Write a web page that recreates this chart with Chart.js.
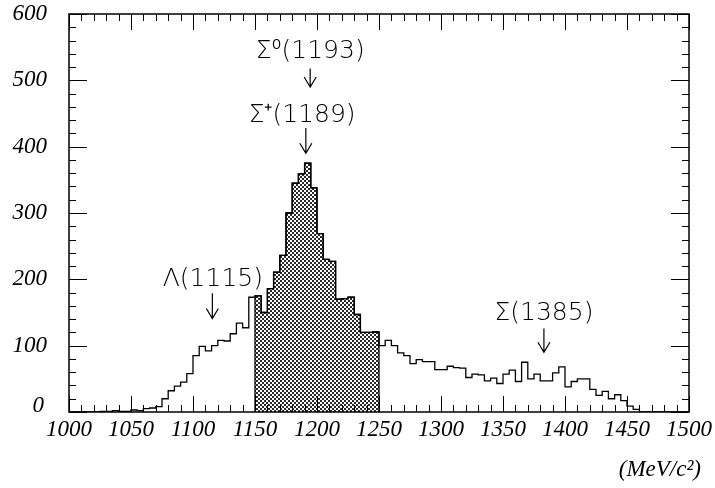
<!DOCTYPE html>
<html lang="en">
<head>
    <meta charset="UTF-8">
    <title>Hyperon mass spectrum</title>
    <script src="https://cdn.jsdelivr.net/npm/chart.js"></script>
    <style>
        body {
            margin: 0;
            padding: 0;
            background: #fff;
        }
        .wrap {
            width: 715px;
            height: 488px;
            position: relative;
        }
    </style>
</head>
<body>
    <div class="wrap">
        <canvas id="grafico"></canvas>
    </div>

    <script>
        // Histogram: 5 MeV bins from 1000 to 1500 MeV/c^2
        const binStart = 1000;
        const binWidth = 5;
        const counts = [
            0, 0, 0, 0, 0, 0,                 // 1000-1025
            1, 1, 2, 1,                       // 1030-1045
            1, 3, 2, 5, 6, 8,                 // 1050-1075
            20, 32, 39, 45,                   // 1080-1095
            58, 85, 99, 92, 100, 108, 107, 118, 134, 127,   // 1100-1145
            173, 175, 150, 186, 211, 236, 300, 345, 359, 375, // 1150-1195
            338, 269, 230, 227, 170, 171, 173, 147, 120, 120, // 1200-1245
            121, 100, 108, 100, 89, 85, 73, 79, 76, 76,      // 1250-1295
            64, 64, 69, 67, 66, 52, 57, 56, 47, 51,          // 1300-1345
            43, 57, 63, 46, 75, 50, 57, 47, 47, 59,          // 1350-1395
            68, 38, 46, 50, 50, 34, 25, 31, 20, 26,          // 1400-1445
            17, 9, 4, 0, 0, 0, 0, 0, 0, 0                    // 1450-1495
        ];

        // shaded (signal) window
        const shadeFrom = 1150;
        const shadeTo = 1250;

        // axis ranges
        const xMin = 1000, xMax = 1500, xStep = 50;
        const yMin = 0, yMax = 600, yStep = 100;

        // peak annotations
        const peakNames = ["Σ⁰(1193)", "Σ⁺(1189)", "Λ(1115)", "Σ(1385)"];
        const unitLabel = "(MeV/c²)";

        // where each annotation sits, in data units: text centre, arrow x, arrow top, arrow tip
        const notePlace = [
            { tx: 1194.5, ty: 544, ax: 1194.5, a0: 518, a1: 490 },
            { tx: 1188,   ty: 447, ax: 1191,   a0: 428, a1: 390 },
            { tx: 1116,   ty: 200, ax: 1115.6, a0: 179, a1: 141 },
            { tx: 1383,   ty: 148, ax: 1383,   a0: 126, a1: 90 }
        ];

        // step outline points (bin low edges + closing edge)
        const outline = counts.map((c, i) => ({ x: binStart + i * binWidth, y: c }));
        outline.push({ x: binStart + counts.length * binWidth, y: counts[counts.length - 1] });

        // shaded part
        const shaded = [{ x: shadeFrom, y: 0 }];
        counts.forEach((c, i) => {
            const lo = binStart + i * binWidth;
            if (lo >= shadeFrom && lo < shadeTo) shaded.push({ x: lo, y: c });
        });
        shaded.push({ x: shadeTo, y: shaded[shaded.length - 1].y });
        shaded.push({ x: shadeTo, y: 0 });

        // checker pattern like the printed hatch
        function makeHatch() {
            const c = document.createElement("canvas");
            c.width = 4;
            c.height = 4;
            const g = c.getContext("2d");
            g.fillStyle = "#ffffff";
            g.fillRect(0, 0, 4, 4);
            g.fillStyle = "#2a2a2a";
            g.fillRect(0, 0, 2, 2);
            g.fillRect(2, 2, 2, 2);
            return g.createPattern(c, "repeat");
        }

        const serif = '"Liberation Serif", "Times New Roman", serif';

        function noPad(s) {
            s.paddingTop = 0;
            s.paddingBottom = 0;
            s.paddingLeft = 0;
            s.paddingRight = 0;
        }

        const decor = {
            id: "decor",
            afterDraw(chart) {
                const ctx = chart.ctx;
                const a = chart.chartArea;
                const xs = chart.scales.x;
                const ys = chart.scales.y;
                ctx.save();
                ctx.strokeStyle = "#000";
                ctx.fillStyle = "#000";

                // frame
                ctx.lineWidth = 1.5;
                ctx.strokeRect(a.left, a.top, a.right - a.left, a.bottom - a.top);

                // inner ticks
                ctx.lineWidth = 1;
                ctx.beginPath();
                for (let v = xMin; v <= xMax; v += 10) {
                    const px = Math.round(xs.getPixelForValue(v)) + 0.5;
                    const len = v % 50 === 0 ? 16 : 7;
                    ctx.moveTo(px, a.bottom);
                    ctx.lineTo(px, a.bottom - len);
                    ctx.moveTo(px, a.top);
                    ctx.lineTo(px, a.top + len);
                }
                for (let v = yMin; v <= yMax; v += 20) {
                    const py = Math.round(ys.getPixelForValue(v)) + 0.5;
                    const len = v % 100 === 0 ? 18 : 7;
                    ctx.moveTo(a.left, py);
                    ctx.lineTo(a.left + len, py);
                    ctx.moveTo(a.right, py);
                    ctx.lineTo(a.right - len, py);
                }
                ctx.stroke();

                // tick labels, italic serif like the original
                ctx.font = "italic 23px " + serif;
                ctx.textBaseline = "middle";
                ctx.textAlign = "center";
                xs.ticks.forEach(t => {
                    ctx.fillText(String(t.value), xs.getPixelForValue(t.value), a.bottom + 18);
                });
                ctx.textAlign = "right";
                ys.ticks.forEach(t => {
                    const py = ys.getPixelForValue(t.value);
                    if (t.value === 0) ctx.fillText("0", a.left - 25, py - 6);
                    else ctx.fillText(String(t.value), a.left - 22, py);
                });

                // peak labels with arrows
                ctx.font = '200 25px "DejaVu Sans", sans-serif';
                ctx.textAlign = "center";
                ctx.textBaseline = "middle";
                ctx.lineWidth = 1.2;
                peakNames.forEach((name, i) => {
                    const p = notePlace[i];
                    ctx.fillText(name, xs.getPixelForValue(p.tx), ys.getPixelForValue(p.ty));
                    const x = xs.getPixelForValue(p.ax);
                    const y0 = ys.getPixelForValue(p.a0);
                    const y1 = ys.getPixelForValue(p.a1);
                    ctx.beginPath();
                    ctx.moveTo(x, y0);
                    ctx.lineTo(x, y1);
                    ctx.moveTo(x - 6, y1 - 10);
                    ctx.lineTo(x, y1);
                    ctx.lineTo(x + 6, y1 - 10);
                    ctx.stroke();
                });

                // unit label
                ctx.font = "italic 23px " + serif;
                ctx.textAlign = "right";
                ctx.textBaseline = "middle";
                ctx.fillText(unitLabel, 701, 470);
                ctx.restore();
            }
        };

        new Chart(document.getElementById("grafico"), {
            type: "line",
            data: {
                datasets: [
                    {
                        data: outline,
                        stepped: "after",
                        borderColor: "#000",
                        borderWidth: 1.3,
                        pointRadius: 0,
                        fill: false,
                        order: 1
                    },
                    {
                        data: shaded,
                        stepped: "after",
                        borderColor: "#000",
                        borderWidth: 1.3,
                        backgroundColor: makeHatch(),
                        pointRadius: 0,
                        fill: "origin",
                        order: 2
                    }
                ]
            },
            options: {
                responsive: true,
                maintainAspectRatio: false,
                animation: false,
                layout: { padding: { top: 14, right: 26, left: 0, bottom: 0 } },
                plugins: {
                    legend: { display: false },
                    tooltip: { enabled: false }
                },
                scales: {
                    x: {
                        type: "linear",
                        min: xMin,
                        max: xMax,
                        grid: { display: false, drawTicks: false },
                        border: { display: false },
                        ticks: { stepSize: xStep, autoSkip: false, display: false },
                        afterFit: s => { s.height = 76; noPad(s); }
                    },
                    y: {
                        min: yMin,
                        max: yMax,
                        grid: { display: false, drawTicks: false },
                        border: { display: false },
                        ticks: { stepSize: yStep, display: false },
                        afterFit: s => { s.width = 69; noPad(s); }
                    }
                }
            },
            plugins: [decor]
        });
    </script>
</body>
</html>
